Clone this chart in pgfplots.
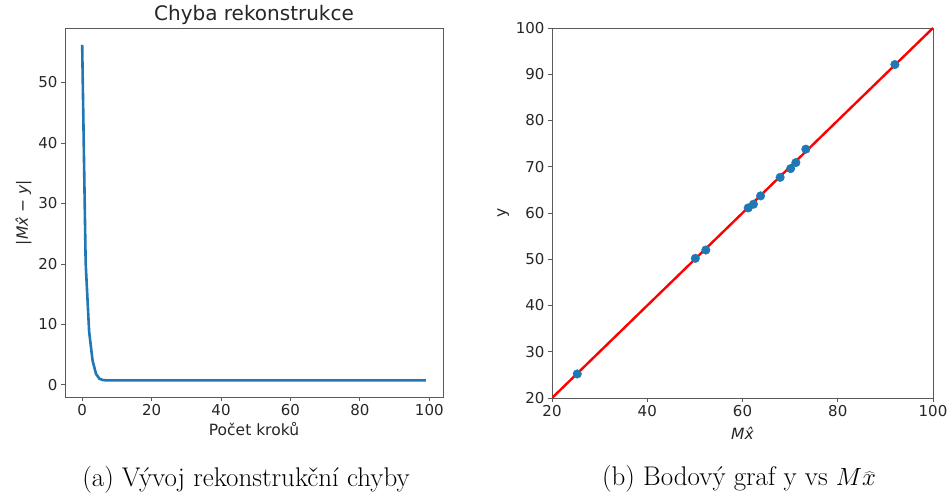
\documentclass[border=0pt]{standalone}
\usepackage{fontspec}
\usepackage{pgfplots}
\pgfplotsset{compat=1.18}
\newfontfamily\dv{DejaVu Sans}
\definecolor{czero}{RGB}{31,119,180}
\begin{document}
\begin{tikzpicture}[x=1pt,y=1pt]
\useasboundingbox (0,0) rectangle (949,497);
\pgfplotsset{
  every axis/.append style={
    scale only axis,
    anchor=south west,
    axis line style={black!65, line width=0.8pt},
    tick style={black!65, line width=0.8pt},
    tick align=outside,
    major tick length=4pt,
    axis x line*=box, axis y line*=box,
    xtick pos=bottom, ytick pos=left,
    /pgf/number format/assume math mode=true,
    ticklabel style={font=\dv\fontsize{15}{18}\selectfont, black!85},
    label style={font=\dv\fontsize{15.5}{18}\selectfont, black!85},
    title style={font=\dv\fontsize{20}{24}\selectfont, black!85, yshift=-6pt},
  }
}
\begin{axis}[
  at={(65pt,100pt)}, width=378pt, height=369pt,
  xmin=-4.95, xmax=103.95, ymin=-2.0, ymax=59,
  xtick={0,20,40,60,80,100}, ytick={0,10,20,30,40,50},
  title={Chyba rekonstrukce},
  xlabel={Počet kroků},
  ylabel={{\itshape |Mx̂ − y|}},
]
\addplot[czero, line width=2.6pt, line join=round] coordinates {
(0,56.2) (1,20.2) (2,8.8) (3,4.0) (4,1.8) (5,1.0) (6,0.8) (7,0.75) (8,0.74)
(10,0.74) (20,0.75) (40,0.76) (60,0.76) (80,0.76) (99,0.76)
};
\end{axis}
\begin{axis}[
  at={(552pt,99pt)}, width=381pt, height=370pt,
  xmin=20, xmax=100, ymin=20, ymax=100,
  xtick={20,40,60,80,100}, ytick={20,30,40,50,60,70,80,90,100},
  xlabel={{\itshape Mx̂}},
  ylabel={y},
  xlabel style={yshift=-3pt},
]
\addplot[only marks, mark=*, mark size=4.3pt, czero, mark options={draw=czero, fill=czero}] coordinates {
(25.3,25.2) (50.1,50.2) (52.3,52.0) (61.2,61.1) (62.3,61.9) (63.8,63.7)
(67.9,67.7) (70.1,69.6) (71.2,70.9) (73.3,73.8) (92.0,92.1)
};
\addplot[red, line width=2.4pt] coordinates {(20,20) (100,100)};
\end{axis}
\node[font=\fontsize{27}{32}\selectfont] at (246,17) {(a) Vývoj rekonstrukční chyby};
\node[font=\fontsize{27}{32}\selectfont] at (739,18) {(b) Bodový graf y vs $M\widehat{x}$};
\end{tikzpicture}
\end{document}
